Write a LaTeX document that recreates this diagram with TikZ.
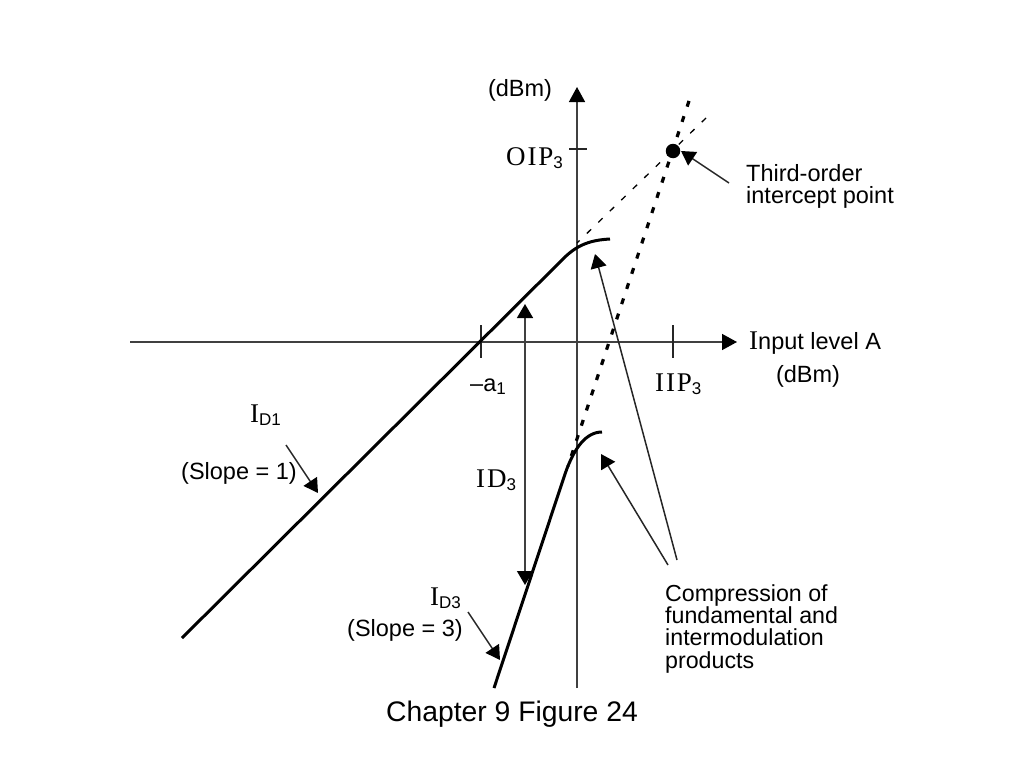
\documentclass[tikz,border=0pt]{standalone}
\usepackage{fontspec}
\setmainfont{Liberation Sans}
\newfontfamily\serifI[LetterSpace=7]{Liberation Serif}
\usetikzlibrary{arrows.meta}
\tikzset{
  lbl/.style={inner sep=0pt,font=\fontsize{23.5}{23.5}\selectfont,text=black},
  leader/.style={draw=black!85,line width=1.5pt,-{Triangle[length=14pt,width=16pt,fill=black,color=black]}},
  axisline/.style={draw=black!75,line width=1.5pt},
  axisarrow/.style={axisline,-{Triangle[length=15pt,width=16pt,fill=black,color=black]}},
  tick/.style={draw=black!85,line width=1.4pt},
  curve/.style={draw=black,line width=3pt},
  thindash/.style={draw=black,line width=1.3pt,dash pattern=on 6pt off 10pt},
  thickdash/.style={draw=black,line width=3.2pt,dash pattern=on 6pt off 10pt}
}
\newcommand{\sbs}[1]{\raisebox{-3.5pt}{\fontsize{17}{17}\selectfont #1}}
\newcommand{\srf}[1]{{\serifI\fontsize{27}{27}\selectfont #1}}
\begin{document}
\begin{tikzpicture}[x=1pt,y=-1pt]
\useasboundingbox (0,0) rectangle (1024,768);
% anchors
\coordinate (yb) at (577,688); \coordinate (yt) at (577,87);
\coordinate (xl) at (130,342); \coordinate (xr) at (737,342);
\coordinate (a1t) at (481,325); \coordinate (a1b) at (481,358);
\coordinate (iipt) at (673,325); \coordinate (iipb) at (673,358);
\coordinate (oipl) at (569,149); \coordinate (oipr) at (587,149);
\coordinate (d1a) at (182,638); \coordinate (d1b) at (564,258); \coordinate (d1c) at (610,239);
\coordinate (d3a) at (494,688); \coordinate (d3b) at (565,474); \coordinate (d3c) at (602,432);
\coordinate (dashA) at (577,243); \coordinate (dashB) at (706,118);
\coordinate (dotA) at (568,466); \coordinate (dotB) at (689,101);
\coordinate (ida) at (525,304); \coordinate (idb) at (525,585);
\coordinate (t1a) at (286,445); \coordinate (t1b) at (318,493);
\coordinate (t3a) at (468,612); \coordinate (t3b) at (500,660);
\coordinate (ipa) at (729,183); \coordinate (ipb) at (681,151);
\coordinate (c1a) at (677,560); \coordinate (c1b) at (595,254);
\coordinate (c2a) at (668,565); \coordinate (c2b) at (601,454);
% axes
\draw[axisarrow] (yb) -- (yt);
\draw[axisarrow] (xl) -- (xr);
\draw[tick] (a1t) -- (a1b);
\draw[tick] (iipt) -- (iipb);
\draw[tick] (oipl) -- (oipr);
% extrapolations
\draw[thindash] (dashB) -- (dashA);
\draw[thickdash] (dotB) -- (dotA);
% characteristic curves
\draw[curve] (d1a) -- (d1b) .. controls (578,244) and (592,240) .. (d1c);
\draw[curve] (d3a) -- (d3b) .. controls (574,448) and (586,432) .. (d3c);
% intercept
\node[circle,fill=black,minimum size=14.5pt,inner sep=0pt] (ip) at (673,151) {};
% arrows
\draw[axisline,{Triangle[length=14pt,width=16pt,fill=black,color=black]}-{Triangle[length=14pt,width=16pt,fill=black,color=black]}] (ida) -- (idb);
\draw[leader] (t1a) -- (t1b);
\draw[leader] (t3a) -- (t3b);
\draw[leader] (ipa) -- (ipb);
\draw[leader] (c1a) -- (c1b);
\draw[leader] (c2a) -- (c2b);
% labels
\node[lbl] (dbmy) at (520,90) {(dBm)};
\node[lbl,anchor=base west] (oip) at (506,165) {\srf{OIP}\sbs{3}};
\node[lbl,anchor=north west,align=left] (third) at (746,164) {Third-order\\[-1.5pt]intercept point};
\node[lbl,anchor=base west] (inp) at (749,349) {\srf{I}nput level A};
\node[lbl] (dbmx) at (808,376) {(dBm)};
\node[lbl,anchor=base west] (mina) at (470,391) {–a\sbs{1}};
\node[lbl,anchor=base west] (iip) at (655,391) {\srf{IIP}\sbs{3}};
\node[lbl,anchor=base west] (idone) at (250,422) {\srf{I}\sbs{D1}};
\node[lbl] (s1) at (239,473) {(Slope = 1)};
\node[lbl,anchor=base west] (idd) at (476,487) {\srf{ID}\sbs{3}};
\node[lbl,anchor=base west] (idthr) at (430,605) {\srf{I}\sbs{D3}};
\node[lbl] (s3) at (405,630) {(Slope = 3)};
\node[lbl,anchor=north west,align=left,font=\fontsize{23.2}{23.2}\selectfont] (comp) at (665,584.5) {Compression of\\[-1pt]fundamental and\\[-1pt]intermodulation\\[-1pt]products};
\node[inner sep=0pt,font=\fontsize{28.3}{28.3}\selectfont] (cap) at (512,714) {Chapter 9 Figure 24};
\end{tikzpicture}
\end{document}
